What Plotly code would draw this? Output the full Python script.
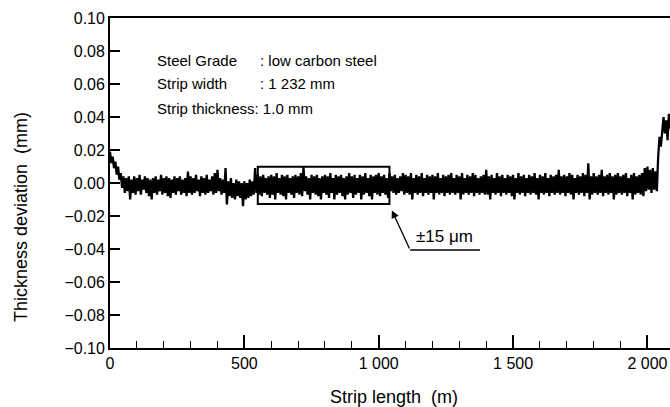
import plotly.graph_objects as go

# ---- data ----
sample_step_m = 5  # sampling interval along the strip
thickness_dev_um = [
    19, 12, 16, 9, 13, 5, 10, 2, 6, -3, 4, -6, 3, -5, 4, -10, 2, -6, 4, -7,
    3, -5, 5, -7, 2, -4, 4, -6, 3, -8, 2, -10, 3, -6, 4, -7, 2, -5, 5, -7,
    3, -6, 4, -8, 3, -9, 2, -6, 4, -7, 3, -5, 4, -7, 2, -6, 3, -8, 7, -6,
    4, -7, 3, -6, 5, -5, 2, -8, 4, -6, 3, -7, 5, -6, 2, -5, 4, -7, 6, -6,
    8, -5, 3, -7, 2, -6, 9, -13, 1, -8, 3, -9, 0, -10, 2, -8, 1, -9, 0, -14,
    1, -10, 0, -9, 2, -8, 1, -7, 9, -6, 5, -7, 4, -8, 5, -6, 3, -7, 4, -9,
    5, -7, 4, -10, 6, -6, 3, -7, 5, -8, 4, -10, 5, -6, 3, -7, 4, -9, 5, -6,
    4, -7, 6, -8, 10, -5, 4, -7, 3, -10, 5, -6, 4, -7, 5, -8, 3, -10, 4, -6,
    5, -7, 4, -9, 6, -6, 3, -10, 5, -7, 4, -6, 5, -8, 3, -10, 4, -7, 6, -6,
    4, -9, 5, -7, 3, -6, 5, -10, 4, -7, 6, -6, 3, -8, 5, -10, 4, -6, 5, -7,
    6, -8, 4, -6, 5, -7, 3, -9, 6, -5, 4, -6, 5, -7, 3, -6, 4, -5, 6, -7,
    5, -6, 4, -7, 6, -10, 3, -6, 5, -7, 4, -6, 6, -8, 3, -6, 5, -7, 4, -6,
    5, -10, 4, -6, 6, -7, 3, -6, 5, -8, 4, -6, 5, -7, 6, -6, 3, -7, 5, -6,
    4, -10, 6, -7, 3, -6, 5, -7, 4, -6, 6, -8, 5, -6, 3, -7, 4, -6, 5, -7,
    8, -7, 4, -10, 5, -6, 3, -7, 6, -6, 4, -8, 5, -6, 3, -7, 5, -6, 4, -8,
    5, -10, 3, -6, 6, -7, 4, -6, 5, -8, 3, -6, 5, -7, 4, -6, 6, -7, 3, -10,
    5, -6, 4, -7, 6, -6, 3, -8, 5, -6, 4, -7, 5, -6, 8, -7, 4, -6, 5, -8,
    4, -6, 6, -7, 5, -10, 3, -6, 5, -7, 4, -6, 6, -8, 5, -6, 12, -10, 4, -7,
    6, -6, 4, -7, 5, -6, 8, -8, 4, -6, 5, -7, 6, -6, 4, -10, 5, -7, 6, -6,
    4, -7, 5, -6, 6, -8, 3, -6, 5, -10, 6, -7, 4, -6, 5, -7, 6, -8, 9, -5,
    10, -4, 8, -6, 9, -4, 7, -5, 16, 28, 22, 34, 40, 30, 38, 26, 42, 33, 44, 38,
]
strip_length_m = [i * sample_step_m for i in range(len(thickness_dev_um))]
thickness_dev_mm = [v / 1000 for v in thickness_dev_um]

x_tick_vals = [0, 500, 1000, 1500, 2000]
x_tick_text = ["0", "500", "1 000", "1 500", "2 000"]
y_tick_vals = [0.10, 0.08, 0.06, 0.04, 0.02, 0.00, -0.02, -0.04, -0.06, -0.08, -0.10]
y_tick_text = ["0.10", "0.08", "0.06", "0.04", "0.02", "0.00",
               "\u22120.02", "\u22120.04", "\u22120.06", "\u22120.08", "\u22120.10"]

info_labels = ["Steel Grade", "Strip width"]
info_values = [": low carbon steel", ": 1 232 mm"]
info_last_line = "Strip thickness: 1.0 mm"

tolerance_box_m = [550, 1040]
tolerance_box_mm = [-0.0127, 0.0099]
tolerance_label = "\u00b115 \u03bcm"

FONT = "Liberation Sans, Arial, Helvetica, sans-serif"

W, H = 670, 407
L, R, T, B = 110, 0, 18, 407 - 348
pw, ph = W - L - R, H - T - B


def px_x(p):  # window pixel -> paper x
    return (p - L) / pw


def px_y(p):  # window pixel -> paper y
    return (H - B - p) / ph


fig = go.Figure()
fig.add_trace(go.Scatter(
    x=strip_length_m, y=thickness_dev_mm, mode="lines",
    line=dict(color="black", width=2.3), hoverinfo="skip", showlegend=False,
))

fig.add_shape(type="rect", xref="x", yref="y",
              x0=tolerance_box_m[0], x1=tolerance_box_m[1],
              y0=tolerance_box_mm[0], y1=tolerance_box_mm[1],
              line=dict(color="black", width=2))

# leader line + arrow for the tolerance label
fig.add_annotation(xref="x", yref="y", axref="x", ayref="y",
                   x=1049, y=-0.0166, ax=1117, ay=-0.0406,
                   text="", showarrow=True, arrowhead=2, arrowsize=1.2,
                   arrowwidth=1.3, arrowcolor="black")
fig.add_shape(type="line", xref="x", yref="y",
              x0=1117, x1=1377, y0=-0.0406, y1=-0.0406,
              line=dict(color="black", width=1.3))
fig.add_annotation(xref="paper", yref="paper", x=px_x(414), y=px_y(236),
                   text=tolerance_label, showarrow=False, xanchor="left",
                   yanchor="middle", font=dict(family=FONT, size=17, color="black"))

for i, (lab, val) in enumerate(zip(info_labels, info_values)):
    ypx = 60 + i * 24
    fig.add_annotation(xref="paper", yref="paper", x=px_x(155), y=px_y(ypx),
                       text=lab, showarrow=False, xanchor="left", yanchor="middle",
                       font=dict(family=FONT, size=15, color="black"))
    fig.add_annotation(xref="paper", yref="paper", x=px_x(258), y=px_y(ypx),
                       text=val, showarrow=False, xanchor="left", yanchor="middle",
                       font=dict(family=FONT, size=15, color="black"))
fig.add_annotation(xref="paper", yref="paper", x=px_x(155), y=px_y(108),
                   text=info_last_line, showarrow=False, xanchor="left",
                   yanchor="middle", font=dict(family=FONT, size=15, color="black"))

# axis titles
fig.add_annotation(xref="paper", yref="paper", x=px_x(394), y=px_y(397),
                   text="Strip length  (m)", showarrow=False, xanchor="center",
                   yanchor="middle", font=dict(family=FONT, size=18, color="black"))
fig.add_annotation(xref="paper", yref="paper", x=px_x(21), y=px_y(217),
                   text="Thickness deviation  (mm)", showarrow=False, textangle=-90,
                   xanchor="center", yanchor="middle",
                   font=dict(family=FONT, size=18, color="black"))

fig.update_xaxes(
    range=[0, 2084], tickvals=x_tick_vals, ticktext=x_tick_text,
    ticks="inside", ticklen=13, tickwidth=1.5, tickcolor="black",
    showline=True, linecolor="black", linewidth=1.8, mirror=True,
    showgrid=False, zeroline=False,
    tickfont=dict(family=FONT, size=16, color="black"),
    minor=dict(tickmode="linear", tick0=0, dtick=100, ticks="inside",
               ticklen=7, tickwidth=1.3, tickcolor="black", showgrid=False),
)
fig.update_yaxes(
    range=[-0.1, 0.1], tickvals=y_tick_vals, ticktext=y_tick_text,
    ticks="inside", ticklen=10, tickwidth=1.5, tickcolor="black",
    showline=True, linecolor="black", linewidth=1.8, mirror=False,
    showgrid=False, zeroline=False,
    tickfont=dict(family=FONT, size=16, color="black"),
)
fig.update_layout(
    width=W, height=H, margin=dict(l=L, r=R, t=T, b=B, pad=0),
    paper_bgcolor="white", plot_bgcolor="white", showlegend=False,
    font=dict(family=FONT, color="black"),
)
fig.write_html(
    "out.html",
    config={"displayModeBar": False},
    post_script=(
        "document.documentElement.style.overflow='hidden';"
        "document.body.style.margin='0';"
        "document.body.style.overflow='hidden';"
    ),
)
